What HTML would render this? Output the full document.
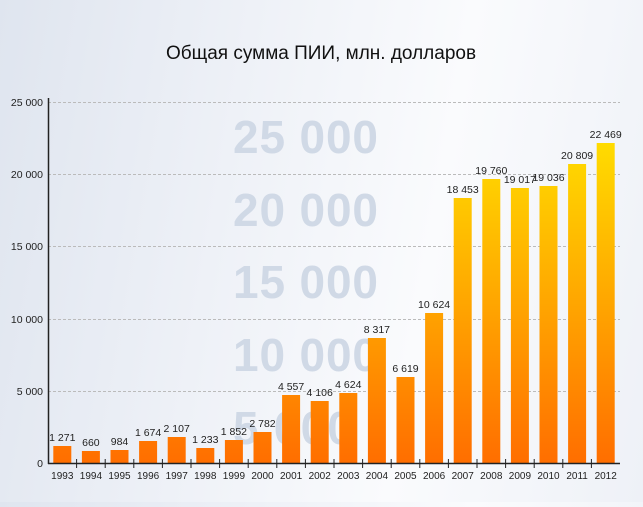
<!DOCTYPE html>
<html><head><meta charset="utf-8"><style>
html,body{margin:0;padding:0}
body{width:643px;height:502px;overflow:hidden;background:linear-gradient(100deg,#dfe5ef 0%,#eef1f7 35%,#fafbfd 65%,#eef1f7 100%);font-family:"Liberation Sans",sans-serif}
</style></head><body>
<svg width="643" height="502" xmlns="http://www.w3.org/2000/svg" font-family="Liberation Sans, sans-serif">
<defs>
<linearGradient id="g" gradientUnits="userSpaceOnUse" x1="0" y1="463" x2="0" y2="130">
<stop offset="0" stop-color="#ff6e00"/><stop offset="0.5" stop-color="#ffa800"/><stop offset="1" stop-color="#ffe000"/>
</linearGradient>
</defs>
<text x="321" y="59" text-anchor="middle" font-size="19" fill="#111">Общая сумма ПИИ, млн. долларов</text>
<g font-size="46" font-weight="bold" fill="#d0d9e6">
<text x="233" y="153" textLength="145">25 000</text><text x="233" y="226" textLength="145">20 000</text><text x="233" y="298" textLength="145">15 000</text><text x="233" y="371" textLength="145">10 000</text><text x="233" y="444" textLength="120">5 000</text>
</g>
<g stroke="#bbb" stroke-dasharray="3,2" stroke-width="1">
<line x1="48" x2="620" y1="102.5" y2="102.5"/><line x1="48" x2="620" y1="174.5" y2="174.5"/><line x1="48" x2="620" y1="246.5" y2="246.5"/><line x1="48" x2="620" y1="319.5" y2="319.5"/><line x1="48" x2="620" y1="391.5" y2="391.5"/>
</g>
<g font-size="10.5" fill="#222" text-anchor="end">
<text x="43" y="106">25 000</text><text x="43" y="178">20 000</text><text x="43" y="250">15 000</text><text x="43" y="323">10 000</text><text x="43" y="395">5 000</text><text x="43" y="467">0</text>
</g>
<g id="bars"></g>
<line x1="48.5" y1="98" x2="48.5" y2="464" stroke="#222" stroke-width="1.5"/>
<line x1="48" y1="463.5" x2="620" y2="463.5" stroke="#222" stroke-width="1.5"/>
<g id="ticks" stroke="#222"></g>
<g id="labs" font-size="10" fill="#222" text-anchor="middle"></g>
</svg>
<script>
var v=[1271,660,984,1674,2107,1233,1852,2782,4557,4106,4624,8317,6619,10624,18453,19760,19017,19036,20809,22469];
var tops=[446,451,450,441,437,448,440,432,395,401,393,338,377,313,198,179,188,186,164,143];
var ns="http://www.w3.org/2000/svg",b=document.getElementById('bars'),t=document.getElementById('ticks'),l=document.getElementById('labs');
function el(p,n,a,txt){var e=document.createElementNS(ns,n);for(var k in a)e.setAttribute(k,a[k]);if(txt)e.textContent=txt;p.appendChild(e);}
for(var i=0;i<20;i++){var c=62.3+28.6*i,y=tops[i];
el(b,'rect',{x:c-9,y:y,width:18,height:463-y,fill:'url(#g)'});
el(l,'text',{x:c,y:y-5,'font-size':10.5},v[i].toLocaleString('en').replace(',',' '));
el(l,'text',{x:c,y:479},String(1993+i));
if(i>0)el(t,'line',{x1:c-14.3,x2:c-14.3,y1:459,y2:468});}
</script>
</body></html>
